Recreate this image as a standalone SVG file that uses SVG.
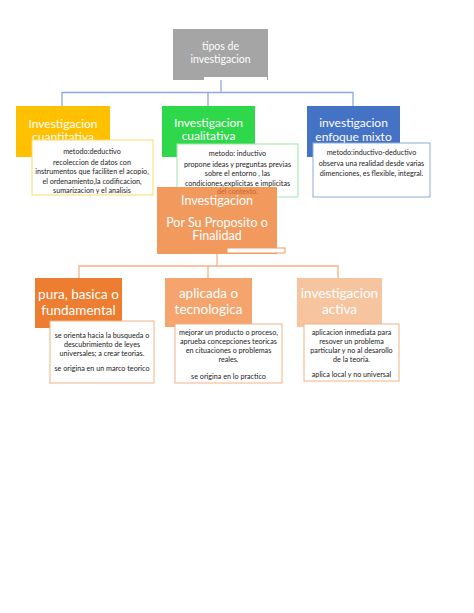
<svg xmlns="http://www.w3.org/2000/svg" width="474" height="613" viewBox="0 0 474 613">
<style>
.t{font-family:Lato,"Open Sans",sans-serif;fill:#fff;text-anchor:middle}
.d{font-family:Lato,"Open Sans",sans-serif;fill:#1a1a1a;text-anchor:middle;font-size:7.2px}
.bl{fill:none;stroke:#8eaadb;stroke-width:1.3}
.or{fill:none;stroke:#f4b183;stroke-width:1.3}
.box{fill:#fff;stroke-width:1}
</style>
<rect width="474" height="613" fill="#fff"/>
<g id="connectors">
<path class="bl" d="M221 80V92.5M62 106V92.5H353V106M208 92.5V106"/>
<path class="or" d="M217 254V266M79 278V266H338V278M208 266V278"/>
</g>
<g id="tipos">
<rect x="173" y="29" width="95" height="51" fill="#a5a5a5"/>
<rect x="204" y="77" width="63" height="3" fill="#fff"/>
<text class="t" font-size="10.5"><tspan x="220.5" y="50">tipos de</tspan><tspan x="220.5" y="63">investigacion</tspan></text>
</g>
<g id="cuantitativa">
<rect x="16" y="106" width="94" height="51" fill="#ffc000"/>
<text class="t" font-size="12"><tspan x="63" y="128">Investigacion</tspan><tspan x="63" y="141">cuantitativa</tspan></text>
<rect class="box" x="32" y="140" width="121" height="55" stroke="#ffd966"/>
<text class="d"><tspan x="92" y="154">metodo:deductivo</tspan><tspan x="92" y="164.5">recoleccion de datos con</tspan><tspan x="92" y="174">instrumentos que faciliten el acopio,</tspan><tspan x="92" y="183.5">el ordenamiento,la codificacion,</tspan><tspan x="92" y="193">sumarizacion y el analisis</tspan></text>
</g>
<g id="cualitativa">
<rect x="162" y="106" width="93" height="51" fill="#2ed84a"/>
<text class="t" font-size="12"><tspan x="208.5" y="127">Investigacion</tspan><tspan x="208.5" y="140">cualitativa</tspan></text>
<rect class="box" x="177" y="144" width="121" height="53" stroke="#9fe3a8"/>
<text class="d"><tspan x="237.5" y="156">metodo: inductivo</tspan><tspan x="237.5" y="166.5">propone ideas y preguntas previas</tspan><tspan x="237.5" y="176">sobre el entorno , las</tspan><tspan x="237.5" y="185.5">condiciones,explicitas e implicitas</tspan></text>
</g>
<g id="mixto">
<rect x="307" y="106" width="93" height="51" fill="#4472c4"/>
<text class="t" font-size="12"><tspan x="353.5" y="127">investigacion</tspan><tspan x="353.5" y="141">enfoque mixto</tspan></text>
<rect class="box" x="313" y="143" width="117" height="54" stroke="#8eaadb"/>
<text class="d"><tspan x="371.5" y="155">metodo:inductivo-deductivo</tspan><tspan x="371.5" y="166">observa una realidad desde varias</tspan><tspan x="371.5" y="176">dimenciones, es flexible, integral.</tspan></text>
</g>
<g id="proposito">
<rect x="157" y="187" width="120" height="67" fill="#f29a5e"/>
<text class="d" x="237.5" y="194" style="fill:#c8652c">del contexto.</text>
<rect x="227" y="248" width="58" height="5" fill="#fff" stroke="#f29a5e" stroke-width="1"/>
<text class="t" font-size="12.5"><tspan x="217" y="205">Investigacion</tspan><tspan x="217" y="227">Por Su Proposito o</tspan><tspan x="217" y="240">Finalidad</tspan></text>
</g>
<g id="pura">
<rect x="35" y="278" width="87" height="50" fill="#ed7d31"/>
<text class="t" font-size="13.5"><tspan x="78.5" y="299">pura, basica o</tspan><tspan x="78.5" y="315">fundamental</tspan></text>
<rect class="box" x="50" y="321" width="104" height="62" stroke="#f4b183"/>
<text class="d"><tspan x="102" y="337.5">se orienta hacia la busqueda o</tspan><tspan x="102" y="346.5">descubrimiento de leyes</tspan><tspan x="102" y="355.5">universales; a crear teorias.</tspan><tspan x="102" y="371">se origina en un marco teorico</tspan></text>
</g>
<g id="aplicada">
<rect x="165" y="278" width="87" height="49" fill="#f4a46c"/>
<text class="t" font-size="13.5"><tspan x="208.5" y="298">aplicada o</tspan><tspan x="208.5" y="314">tecnologica</tspan></text>
<rect class="box" x="175" y="324" width="107" height="59" stroke="#f4b183"/>
<text class="d"><tspan x="228.5" y="334.5">mejorar un producto o proceso,</tspan><tspan x="228.5" y="343.5">aprueba concepciones teoricas</tspan><tspan x="228.5" y="352.5">en cituaciones o problemas</tspan><tspan x="228.5" y="361.5">reales.</tspan><tspan x="228.5" y="379">se origina en lo practico</tspan></text>
</g>
<g id="activa">
<rect x="297" y="278" width="85" height="49" fill="#f7c4a0"/>
<text class="t" font-size="13.5"><tspan x="339.5" y="298">investigacion</tspan><tspan x="339.5" y="314">activa</tspan></text>
<rect class="box" x="304" y="324" width="95" height="57" stroke="#f4b183"/>
<text class="d"><tspan x="351.5" y="334.5">aplicacion inmediata para</tspan><tspan x="351.5" y="343.5">resover un problema</tspan><tspan x="351.5" y="352.5">particular y no al desarollo</tspan><tspan x="351.5" y="361.5">de la teoría.</tspan><tspan x="351.5" y="377">aplica local y no universal</tspan></text>
</g>
</svg>
